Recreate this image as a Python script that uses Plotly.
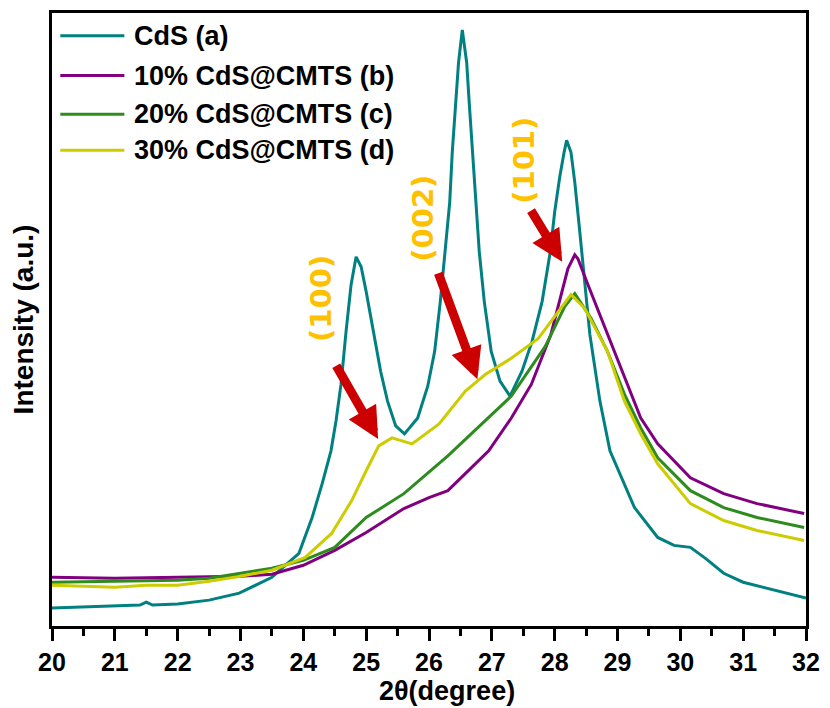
import plotly.graph_objects as go

# ---------------- data (intensity in arbitrary units) ----------------
series_names = ["CdS (a)", "10% CdS@CMTS (b)", "20% CdS@CMTS (c)", "30% CdS@CMTS (d)"]
series_colors = ["#008080", "#800080", "#2E8B1E", "#CCCC00"]

cds_theta = [20.0, 20.5, 21.0, 21.4, 21.5, 21.6, 22.0, 22.5, 22.98, 23.5, 23.93, 24.14, 24.3,
             24.44, 24.52, 24.60, 24.68, 24.76, 24.84, 24.92, 25.00, 25.11, 25.23, 25.34, 25.47, 25.61,
             25.82, 25.98, 26.09, 26.18, 26.26, 26.33, 26.37, 26.42, 26.47, 26.53, 26.60, 26.64, 26.69,
             26.74, 26.80, 26.88, 26.99, 27.13, 27.29,
             27.48, 27.64, 27.80, 27.93, 28.00, 28.08, 28.15, 28.19, 28.26, 28.32, 28.40, 28.48, 28.56,
             28.72, 28.88, 29.27, 29.64, 29.9, 30.16, 30.4, 30.69, 31.0, 31.5, 32.0]
cds_int = [18, 19, 20, 21, 24, 21, 22, 26, 33, 49, 73, 109, 143,
           176, 206, 243, 296, 343, 371, 361, 336, 296, 256, 226, 201, 193,
           209, 241, 276, 326, 376, 426, 476, 526, 566, 599, 566, 526, 476,
           426, 376, 326, 276, 246, 231,
           256, 286, 326, 376, 416, 451, 476, 488, 476, 446, 396, 346, 293,
           226, 176, 119, 89, 81, 79, 68, 53, 44, 36, 28]

cmts10_theta = [20.0, 21.0, 22.0, 23.0, 23.5, 24.0, 24.5, 25.0, 25.6, 26.0, 26.3, 26.95, 27.31, 27.63,
                27.94, 28.1, 28.21, 28.32, 28.37, 28.53, 28.84, 29.11, 29.37, 29.64, 30.16, 30.69,
                31.22, 31.97]
cmts10_int = [49, 48, 49, 50, 52, 61, 76, 94, 118, 129, 136, 176, 209, 243,
              293, 333, 359, 373, 369, 343, 293, 249, 209, 183, 149, 133,
              123, 113]

cmts20_theta = [20.0, 21.0, 22.0, 22.5, 23.0, 23.5, 24.0, 24.5, 25.0, 25.6, 26.3, 26.8, 27.31, 27.85,
                28.16, 28.32, 28.58, 28.84, 29.11, 29.37, 29.64, 30.16, 30.69, 31.22, 31.97]
cmts20_int = [44, 45, 46, 48, 53, 58, 66, 79, 109, 133, 171, 201, 231, 281,
              321, 334, 309, 276, 233, 199, 169, 136, 119, 109, 99]

cmts30_theta = [20.0, 20.5, 21.0, 21.5, 22.0, 22.5, 23.0, 23.5, 24.03, 24.45, 24.77, 25.0, 25.2, 25.41,
                25.73, 26.16, 26.58, 26.9, 27.31, 27.74, 28.05, 28.26, 28.48, 28.84, 29.11, 29.37,
                29.64, 30.16, 30.69, 31.22, 31.97]
cmts30_int = [41, 40, 39, 41, 41, 45, 50, 56, 69, 93, 126, 156, 181, 189,
              183, 203, 236, 253, 269, 289, 316, 333, 319, 276, 226, 193,
              163, 123, 106, 96, 86]

x_tick_values = list(range(20, 33))
x_tick_labels = [str(v) for v in x_tick_values]

peak_labels = ["(100)", "(002)", "(101)"]
peak_label_theta = [24.27, 25.90, 27.52]
peak_label_int = [329, 410, 468]
arrow_tail_theta = [24.51, 26.14, 27.61]
arrow_tail_int = [263, 356, 419]
arrow_head_theta = [25.19, 26.77, 28.12]
arrow_head_int = [188, 248, 366]

# ---------------- figure ----------------
all_theta = [cds_theta, cmts10_theta, cmts20_theta, cmts30_theta]
all_int = [cds_int, cmts10_int, cmts20_int, cmts30_int]

fig = go.Figure()
for name, col, th, it in zip(series_names, series_colors, all_theta, all_int):
    fig.add_trace(go.Scatter(x=th, y=it, mode="lines", name=name,
                             line=dict(color=col, width=3), showlegend=False))

annotations = []
shapes = []

# manual legend (long line samples as in the reference)
leg_y = [0.963, 0.898, 0.835, 0.776]
for name, col, ly in zip(series_names, series_colors, leg_y):
    shapes.append(dict(type="line", xref="paper", yref="paper", x0=0.011, x1=0.096, y0=ly, y1=ly,
                       line=dict(color=col, width=3)))
    annotations.append(dict(xref="paper", yref="paper", x=0.106, y=ly, xanchor="left", yanchor="middle",
                            text="<b>%s</b>" % name, showarrow=False,
                            font=dict(family="Liberation Sans, Arial", size=27, color="black")))

# arrows
for ht, hi, tt, ti in zip(arrow_head_theta, arrow_head_int, arrow_tail_theta, arrow_tail_int):
    annotations.append(dict(x=ht, y=hi, ax=tt, ay=ti, xref="x", yref="y", axref="x", ayref="y",
                            text="", showarrow=True, arrowhead=2, arrowsize=0.7, arrowwidth=9,
                            arrowcolor="#CC0000", standoff=0))

# peak labels
for lab, lt, li in zip(peak_labels, peak_label_theta, peak_label_int):
    annotations.append(dict(x=lt, y=li, xref="x", yref="y", text="<b>%s</b>" % lab, textangle=-90,
                            showarrow=False,
                            font=dict(family="DejaVu Sans", size=29, color="#FFC000")))

# x-axis title (slightly right of centre, as in the reference)
annotations.append(dict(xref="paper", yref="paper", x=0.524, y=-0.106, xanchor="center", yanchor="middle",
                        text="<b>2θ(degree)</b>", showarrow=False, borderpad=0,
                        font=dict(family="Liberation Sans, Arial", size=27, color="black")))

fig.update_layout(
    width=830, height=708,
    margin=dict(l=52, r=20, t=10, b=82),
    paper_bgcolor="white", plot_bgcolor="white",
    shapes=shapes, annotations=annotations,
    font=dict(family="Liberation Sans, Arial", color="black"),
)
fig.update_xaxes(
    range=[20, 32], tickmode="array", tickvals=x_tick_values, ticktext=x_tick_labels,
    ticks="outside", ticklen=12, tickwidth=3, tickcolor="black",
    minor=dict(ticks="outside", ticklen=7, tickwidth=3, tickcolor="black", dtick=0.5),
    showline=True, linewidth=3, linecolor="black", mirror=True, showgrid=False, zeroline=False,
    tickfont=dict(family="Liberation Sans, Arial", size=25, color="black", weight="bold"),
)
fig.update_yaxes(
    range=[0, 616], showticklabels=False, ticks="",
    showline=True, linewidth=3, linecolor="black", mirror=True, showgrid=False, zeroline=False,
    title=dict(text="<b>Intensity (a.u.)</b>", font=dict(family="Liberation Sans, Arial", size=28, color="black"),
               standoff=8),
)

fig.write_html("out.html")
